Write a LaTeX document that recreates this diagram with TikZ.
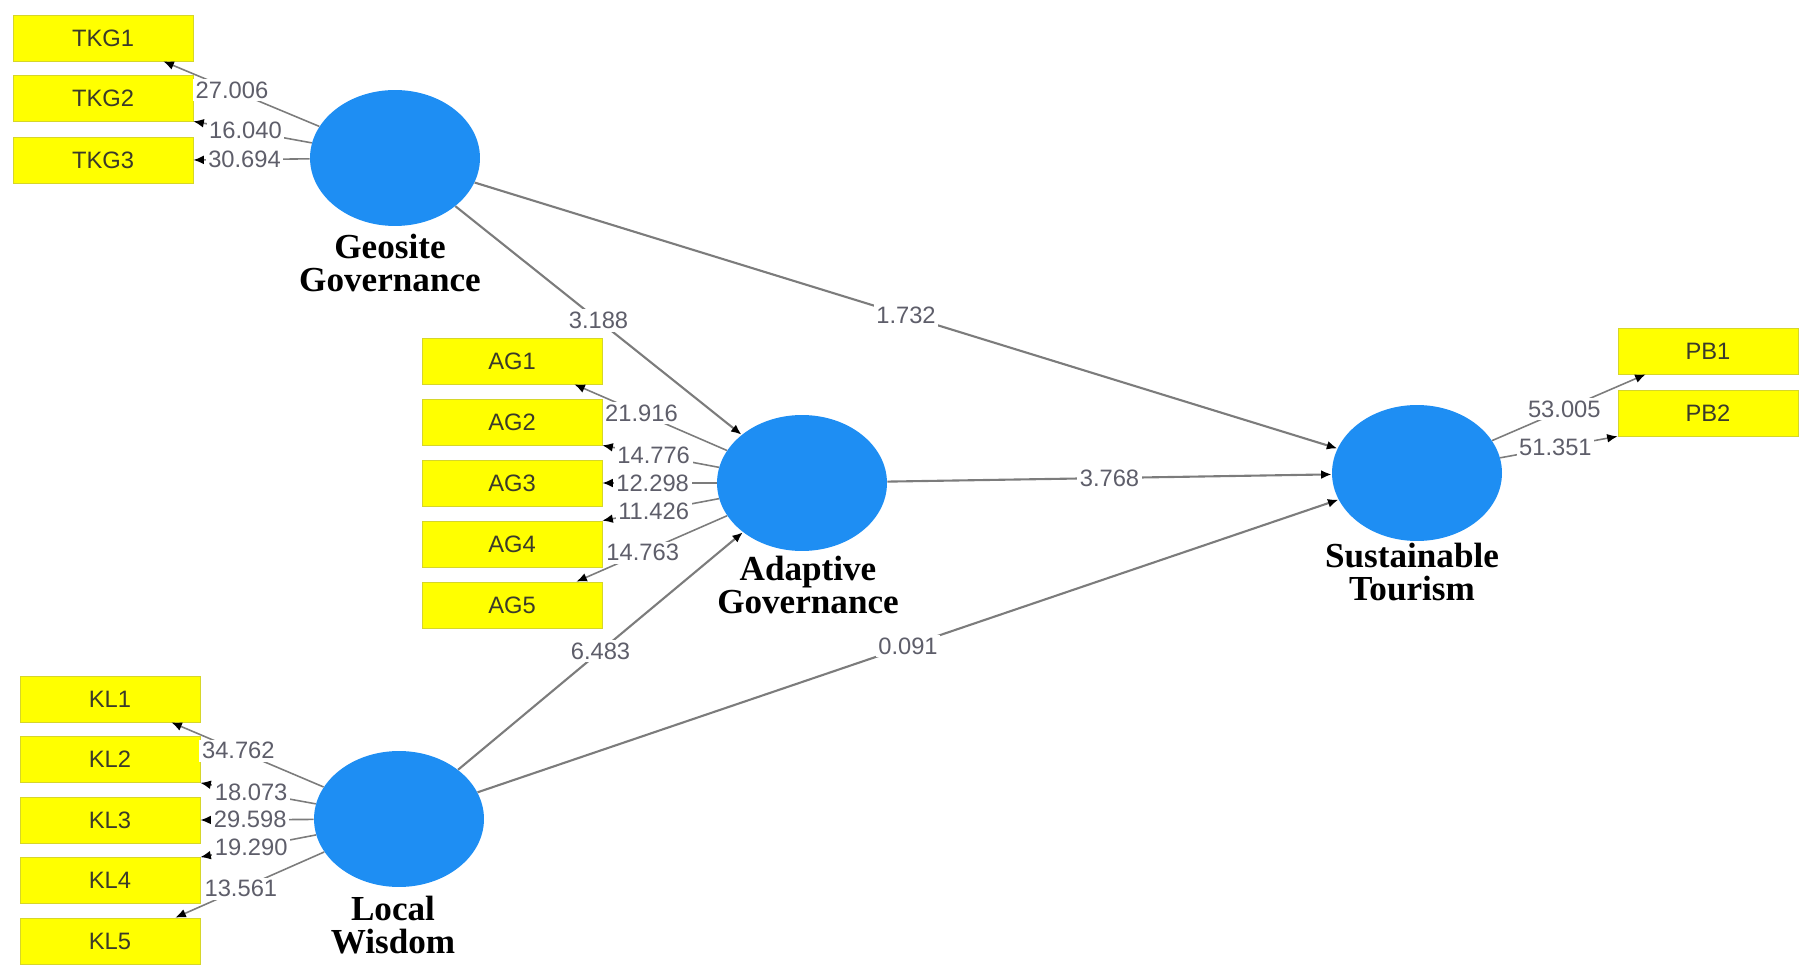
\documentclass[tikz,border=0pt]{standalone}
\usepackage{fontspec}
\setmainfont{Liberation Sans}
\newfontfamily\constructfont{Liberation Serif}
\usetikzlibrary{arrows.meta,shapes.geometric}
\definecolor{ink}{HTML}{3A3A2A}
\definecolor{pathgray}{HTML}{7C7C7C}
\definecolor{numgray}{HTML}{5E5E6A}
\definecolor{ind}{HTML}{FFFF00}
\definecolor{indrule}{HTML}{D6D62A}
\definecolor{lv}{HTML}{1E8EF3}

\begin{document}
\begin{tikzpicture}[x=.02cm,y=-.02cm,font=\fontsize{13.5}{15}\selectfont,
  >={Latex[length=6pt,width=5pt,color=black]},
  item/.style={draw=indrule,fill=ind,text=ink,minimum width=3.6cm,
    minimum height=.92cm,inner sep=0pt,font=\fontsize{13.5}{15}\selectfont},
  latent/.style={ellipse,fill=lv,minimum width=3.4cm,minimum height=2.72cm,
    inner sep=0pt},
  caption/.style={font=\constructfont\bfseries\fontsize{20}{19}\selectfont,
    align=center},
  load/.style={->,pathgray,line width=.9pt},
  beta/.style={->,pathgray,line width=1.2pt},
  val/.style={midway,fill=white,text=numgray,inner sep=1.5pt}]
  \useasboundingbox (0,0) rectangle (1812,979);

  % latent variables
  \node[latent] (geo) at (395,158) {};
  \node[latent] (ada) at (802,483) {};
  \node[latent] (sus) at (1417,473) {};
  \node[latent] (loc) at (399,819) {};
  \node[caption] (geocap) at (390,263) {Geosite\\Governance};
  \node[caption] (adacap) at (808,585) {Adaptive\\Governance};
  \node[caption] (suscap) at (1412,572) {Sustainable\\Tourism};
  \node[caption] (loccap) at (393,925) {Local\\Wisdom};

  % indicators
  \foreach \i/\y in {1/38,2/98,3/160}
    \node[item] (tkg\i) at (103,\y) {TKG\i};
  \foreach \i in {1,...,5}
    \node[item] (ag\i) at (512,{361+61*(\i-1)}) {AG\i};
  \foreach \i in {1,...,5}
    \node[item] (kl\i) at (110,{699+60.5*(\i-1)}) {KL\i};
  \foreach \i/\y in {1/351,2/413}
    \node[item] (pb\i) at (1708,\y) {PB\i};

  % outer loadings
  \foreach \n/\xs/\a/\v in {tkg1/-.6/south east/27.006,
      tkg2/0/south east/16.040,tkg3/0/east/30.694}
    \draw[load] (geo) -- ([xshift=\xs cm]\n.\a) node[val,pos=.56] {\v};
  \foreach \n/\xs/\a/\v in {ag1/-.56/south east/21.916,
      ag2/0/south east/14.776,ag3/0/east/12.298,
      ag4/0/north east/11.426,ag5/-.52/north east/14.763}
    \draw[load] (ada) -- ([xshift=\xs cm]\n.\a) node[val,pos=.56] {\v};
  \foreach \n/\xs/\a/\v in {kl1/-.58/south east/34.762,
      kl2/0/south east/18.073,kl3/0/east/29.598,
      kl4/0/north east/19.290,kl5/-.5/north east/13.561}
    \draw[load] (loc) -- ([xshift=\xs cm]\n.\a) node[val,pos=.56] {\v};
  \foreach \n/\xs/\a/\v in {pb1/.56/south west/53.005,
      pb2/0/south west/51.351}
    \draw[load] (sus) -- ([xshift=\xs cm]\n.\a) node[val,pos=.47] {\v};

  % structural paths
  \draw[beta] (geo) -- (ada) node[val] {3.188};
  \draw[beta] (geo) -- (sus) node[val] {1.732};
  \draw[beta] (ada) -- (sus) node[val] {3.768};
  \draw[beta] (loc) -- (ada) node[val] {6.483};
  \draw[beta] (loc) -- (sus) node[val] {0.091};
\end{tikzpicture}
\end{document}
